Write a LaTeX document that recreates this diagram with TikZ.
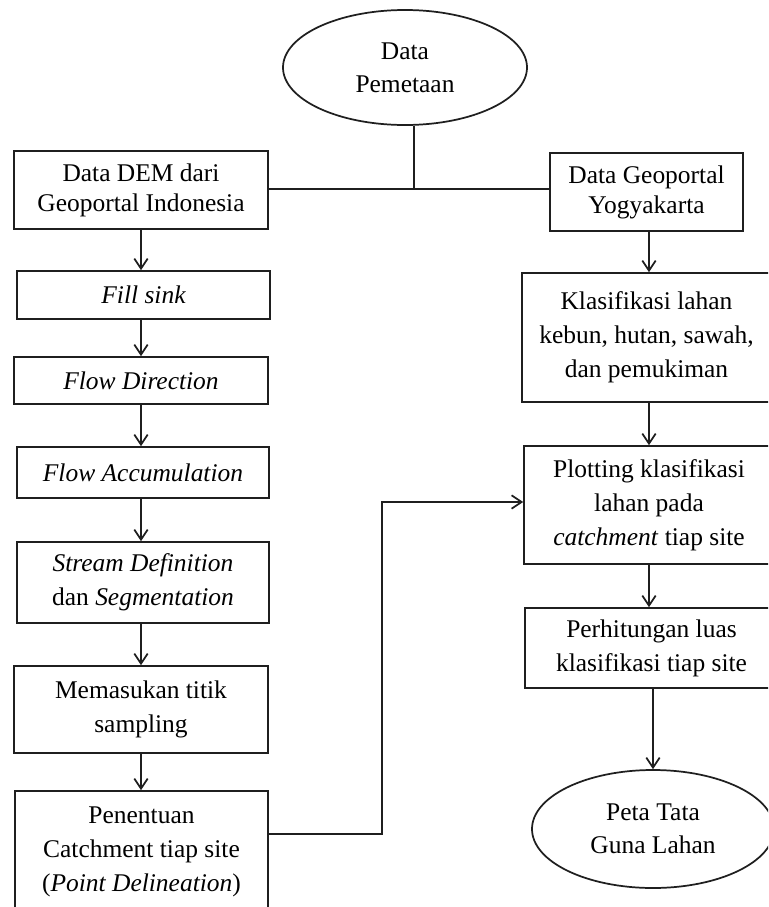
\documentclass[tikz,border=0pt]{standalone}
\usepackage{fontspec}
\setmainfont{Liberation Serif}
\usetikzlibrary{arrows.meta,shapes.geometric}
\tikzset{
  ln/.style={draw=black!88, line width=1.3pt},
  box/.style={ln, rectangle, inner sep=0pt, align=center, fill=white,
     font=\fontsize{19.1}{25.5}\selectfont},
  tbox/.style={box, font=\fontsize{19.1}{22.5}\selectfont},
  oval/.style={ln, ellipse, inner sep=0pt, align=center, fill=white,
     font=\fontsize{19.1}{24.75}\selectfont},
  arr/.style={ln, -{Straight Barb[length=7.5pt,width=10pt]}},
}
\begin{document}
\begin{tikzpicture}[x=0.75pt,y=-0.75pt]
\useasboundingbox (0,0) rectangle (768,907);
\clip (0,0) rectangle (768,907);
\fill[white] (0,0) rectangle (768,907);
% top
\node[oval, minimum width=183pt, minimum height=86.25pt] (ell) at (405,67.5) {Data\\Pemetaan};
\node[tbox, minimum width=190.5pt, minimum height=58.5pt] (dem) at (141,190) {Data DEM dari\\Geoportal Indonesia};
\node[tbox, minimum width=144.75pt, minimum height=58.5pt] (geo) at (646.5,192) {Data Geoportal\\Yogyakarta};
% left column
\node[box, minimum width=189.75pt, minimum height=36pt] (fill) at (143.5,295) {\itshape Fill sink};
\node[box, minimum width=190.5pt, minimum height=35.25pt] (fdir) at (141,380.5) {\itshape Flow Direction};
\node[box, minimum width=189pt, minimum height=38.25pt] (facc) at (143,472.5) {\itshape Flow Accumulation};
\node[box, minimum width=189pt, minimum height=60.75pt] (strm) at (143,582.5) {\textit{Stream Definition}\\dan \textit{Segmentation}};
\node[box, minimum width=190.5pt, minimum height=65.25pt] (mem) at (141,709.5) {Memasukan titik\\sampling};
\node[box, minimum width=189.75pt, minimum height=90.75pt] (pen) at (141.5,851.5) {Penentuan\\Catchment tiap site\\(\textit{Point Delineation})};
% right column
\node[box, minimum width=186.75pt, minimum height=96.75pt] (klas) at (646.5,337.5) {Klasifikasi lahan\\kebun, hutan, sawah,\\dan pemukiman};
\node[box, minimum width=187.5pt, minimum height=88.5pt] (plot) at (649,505) {Plotting klasifikasi\\lahan pada\\\textit{catchment} tiap site};
\node[box, minimum width=189.75pt, minimum height=60pt] (perh) at (651.5,648) {Perhitungan luas\\klasifikasi tiap site};
\node[oval, minimum width=181.5pt, minimum height=88.5pt] (peta) at (653,829) {Peta Tata\\Guna Lahan};
% helper coordinates
\coordinate (j) at (414,189);
\coordinate (cL) at (141,0);
\coordinate (cR) at (649,0);
\coordinate (k) at (382,834);
\coordinate (m) at (382,502);
% connectors
\draw[ln] (ell.south -| j) -- (j);
\draw[ln] (dem.east |- j) -- (geo.west |- j);
\draw[arr] (dem.south -| cL) -- (fill.north -| cL);
\draw[arr] (fill.south -| cL) -- (fdir.north -| cL);
\draw[arr] (fdir.south -| cL) -- (facc.north -| cL);
\draw[arr] (facc.south -| cL) -- (strm.north -| cL);
\draw[arr] (strm.south -| cL) -- (mem.north -| cL);
\draw[arr] (mem.south -| cL) -- (pen.north -| cL);
\draw[arr] (geo.south -| cR) -- (klas.north -| cR);
\draw[arr] (klas.south -| cR) -- (plot.north -| cR);
\draw[arr] (plot.south -| cR) -- (perh.north -| cR);
\draw[arr] (perh.south -| peta.north) -- (peta.north);
\draw[arr] (pen.east |- k) -- (k) -- (m) -- (plot.west |- m);
\end{tikzpicture}
\end{document}
